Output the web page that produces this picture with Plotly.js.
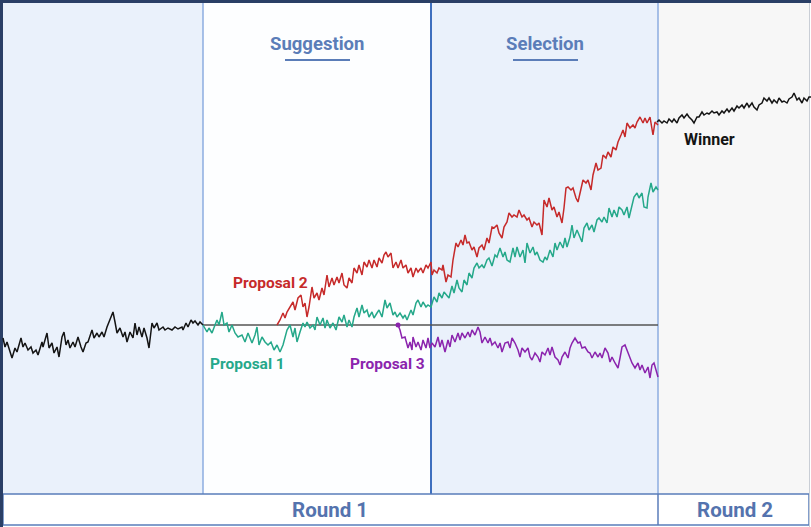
<!DOCTYPE html>
<html>
<head>
<meta charset="utf-8">
<script src="https://cdn.plot.ly/plotly-3.0.1.min.js"></script>
<style>html,body{margin:0;padding:0;background:#fff;}#chart{width:811px;height:527px;}</style>
</head>
<body>
<div id="chart"></div>
<script>
// Positions are in picture units: x from left, y from top (axis reversed)
const history = [[3,338],[5,347],[7,342],[12,358],[15,348],[17,352],[21,338],[23,347],[25,343],[28,350],[31,347],[33,353],[36,350],[38,355],[42,342],[43,347],[47,333],[49,348],[52,343],[54,353],[57,347],[59,357],[62,337],[64,332],[66,345],[68,340],[70,348],[73,342],[75,347],[78,337],[81,347],[83,352],[86,343],[88,342],[92,330],[94,338],[97,333],[99,337],[102,332],[104,337],[107,327],[110,320],[113,312],[115,322],[117,333],[120,328],[123,337],[125,332],[127,342],[130,332],[133,338],[135,323],[137,335],[139,327],[142,337],[144,328],[147,338],[149,348],[152,323],[154,328],[157,323],[159,330],[163,327],[165,330],[168,328],[172,330],[175,327],[178,329],[182,327],[183,330],[186,323],[188,327],[191,320],[193,323],[195,321],[198,325],[200,322],[203,325]];

const proposal1 = [[203,325],[207,332],[209,328],[212,333],[215,325],[217,320],[219,325],[222,312],[224,325],[227,323],[229,332],[232,325],[235,333],[238,337],[242,335],[245,342],[248,333],[252,343],[255,335],[257,327],[259,345],[262,337],[265,342],[268,345],[271,342],[274,350],[277,345],[280,352],[283,345],[287,330],[290,325],[293,337],[295,328],[297,342],[300,332],[303,323],[305,327],[307,322],[310,328],[313,325],[315,330],[317,317],[320,325],[323,318],[325,328],[327,320],[330,328],[333,323],[336,330],[339,317],[342,322],[344,315],[347,327],[349,320],[352,327],[354,317],[357,308],[359,317],[362,305],[364,313],[367,310],[369,317],[372,312],[374,318],[377,313],[379,310],[382,317],[385,300],[387,308],[390,303],[393,315],[395,312],[397,317],[400,313],[403,318],[405,315],[407,320],[411,310],[413,315],[416,303],[418,300],[421,307],[423,302],[426,307],[428,305],[431,307],[434,297],[437,302],[439,293],[442,298],[444,292],[447,295],[449,298],[452,286],[454,293],[457,280],[459,288],[462,292],[464,280],[467,285],[469,273],[472,278],[474,268],[477,263],[479,268],[482,265],[484,268],[487,260],[489,258],[492,266],[495,255],[497,257],[500,248],[503,257],[505,252],[507,260],[510,262],[513,248],[515,257],[517,247],[520,257],[523,250],[525,263],[527,243],[530,253],[533,247],[535,255],[537,252],[540,260],[543,262],[545,257],[547,260],[550,250],[553,257],[555,243],[557,250],[560,242],[563,248],[565,238],[567,247],[570,237],[572,225],[574,238],[577,230],[579,235],[582,242],[584,228],[587,223],[589,230],[592,225],[594,232],[597,220],[599,218],[602,222],[604,217],[607,223],[609,208],[612,217],[614,210],[617,217],[619,207],[622,210],[624,215],[627,207],[629,218],[632,205],[634,197],[637,193],[639,198],[642,193],[644,207],[647,208],[648,197],[651,183],[653,192],[656,187],[658,190]];

const proposal2 = [[277,325],[280,320],[283,313],[285,318],[287,312],[290,307],[293,302],[295,310],[298,298],[301,295],[303,307],[305,303],[307,317],[309,307],[312,287],[314,298],[317,293],[319,300],[322,288],[324,295],[327,275],[329,287],[332,278],[334,285],[337,277],[339,283],[342,273],[344,285],[347,288],[349,278],[352,283],[354,268],[357,273],[359,265],[362,275],[364,262],[367,267],[369,260],[372,268],[374,260],[377,267],[379,258],[382,263],[384,255],[386,252],[388,257],[391,253],[393,268],[396,262],[398,268],[401,260],[403,268],[406,265],[408,273],[411,268],[413,277],[416,268],[418,272],[421,268],[423,273],[426,265],[428,268],[431,262],[432,275],[434,270],[437,273],[439,268],[442,270],[443,265],[446,282],[448,275],[451,277],[453,260],[456,243],[458,247],[461,240],[463,245],[465,235],[467,243],[469,242],[472,250],[474,247],[477,257],[479,248],[482,245],[484,250],[487,238],[489,243],[492,227],[494,228],[497,225],[499,233],[502,238],[504,227],[507,222],[509,213],[512,217],[514,215],[517,217],[519,210],[522,217],[524,215],[527,220],[529,218],[532,227],[534,222],[537,225],[539,223],[542,235],[544,200],[547,207],[549,198],[552,210],[554,207],[557,217],[559,212],[562,223],[564,208],[566,188],[568,187],[571,190],[573,188],[576,198],[578,202],[581,188],[583,180],[586,183],[588,180],[591,190],[593,175],[596,163],[598,170],[601,168],[603,155],[606,158],[608,152],[611,157],[613,147],[616,150],[618,142],[621,135],[623,130],[625,137],[627,123],[630,128],[633,125],[635,128],[637,122],[640,117],[643,123],[645,118],[647,123],[650,117],[653,135],[655,122],[658,125]];

const proposal3 = [[398,325],[400,330],[402,338],[405,337],[408,348],[410,342],[412,350],[413,337],[416,347],[418,342],[421,350],[423,340],[426,348],[428,338],[430,348],[432,343],[435,347],[438,337],[440,347],[442,340],[445,352],[448,340],[450,347],[452,335],[455,342],[458,333],[460,340],[462,333],[465,338],[468,332],[470,337],[472,330],[475,335],[478,327],[480,332],[482,343],[485,337],[488,343],[490,338],[492,345],[495,342],[498,348],[500,343],[502,352],[505,343],[508,342],[510,348],[512,338],[515,343],[518,350],[520,357],[522,348],[525,352],[528,348],[530,357],[532,360],[535,353],[538,357],[540,362],[542,352],[545,355],[548,348],[550,355],[552,347],[555,357],[558,360],[560,365],[562,357],[565,352],[568,358],[570,348],[572,343],[575,338],[578,343],[580,342],[582,348],[585,347],[588,352],[590,353],[592,358],[595,352],[598,357],[600,353],[602,358],[605,348],[608,353],[610,362],[612,357],[615,363],[618,368],[620,358],[622,347],[625,345],[628,353],[630,357],[632,363],[635,368],[638,363],[640,370],[642,365],[645,373],[648,367],[650,378],[652,365],[654,363],[657,372],[658,377]];

const winner = [[657,122],[659,120],[662,123],[664,121],[667,123],[669,119],[672,122],[674,119],[677,123],[679,118],[682,115],[684,118],[687,114],[689,117],[692,120],[694,123],[697,117],[699,117],[702,112],[704,115],[707,113],[709,114],[712,111],[714,113],[717,112],[719,115],[722,111],[724,113],[727,109],[729,112],[732,108],[734,111],[737,106],[739,108],[742,105],[744,108],[747,103],[749,107],[752,103],[754,107],[757,110],[759,105],[762,103],[764,98],[767,101],[769,98],[772,103],[774,100],[777,103],[779,98],[782,102],[784,101],[787,103],[789,99],[792,97],[794,93],[797,100],[799,98],[802,103],[804,98],[807,101],[809,97],[811,97]];

const phaseLabels = ["Suggestion", "Selection"];
const roundLabels = ["Round 1", "Round 2"];
const seriesLabels = ["Proposal 1", "Proposal 2", "Proposal 3", "Winner"];

const X = a => a.map(p => p[0]);
const Y = a => a.map(p => p[1]);

function line(arr, color) {
  return {x: X(arr), y: Y(arr), mode: 'lines', type: 'scatter', hoverinfo: 'skip',
          line: {color: color, width: 1.5}, showlegend: false};
}

const cGreen = '#25A88A', cRed = '#C62A2A', cPurple = '#8B24AD', cBlack = '#141414';
const traces = [
  line(history, cBlack),
  line(proposal1, cGreen),
  line(proposal2, cRed),
  line(proposal3, cPurple),
  line(winner, cBlack),
  {x: [proposal3[0][0]], y: [proposal3[0][1]], mode: 'markers', type: 'scatter', hoverinfo: 'skip',
   marker: {color: cPurple, size: 5}, showlegend: false}
];

const lightBlue = '#EAF1FB';
const shapes = [
  {type:'rect', layer:'below', x0:3, x1:203, y0:3, y1:494, fillcolor:lightBlue, line:{width:0}},
  {type:'rect', layer:'below', x0:203, x1:431, y0:3, y1:494, fillcolor:'#FDFEFF', line:{width:0}},
  {type:'rect', layer:'below', x0:431, x1:658, y0:3, y1:494, fillcolor:lightBlue, line:{width:0}},
  {type:'rect', layer:'below', x0:658, x1:810, y0:3, y1:494, fillcolor:'#F7F7F7', line:{width:0}},
  {type:'line', layer:'below', x0:203, x1:203, y0:3, y1:494, line:{color:'#8CADE0', width:1.5}},
  {type:'line', layer:'below', x0:431, x1:431, y0:3, y1:494, line:{color:'#3E6FBE', width:2}},
  {type:'line', layer:'below', x0:658, x1:658, y0:3, y1:494, line:{color:'#8CADE0', width:1.5}},
  {type:'line', layer:'below', x0:203, x1:658, y0:325, y1:325, line:{color:'#555555', width:1.5}},
  {type:'rect', layer:'below', x0:3, x1:809, y0:494, y1:525, fillcolor:'#FFFFFF', line:{color:'#5A7DBA', width:1.5}},
  {type:'line', layer:'below', x0:658, x1:658, y0:494, y1:525, line:{color:'#5A7DBA', width:1.5}},
  {type:'line', layer:'below', x0:809.5, x1:809.5, y0:3, y1:527, line:{color:'#C9CED6', width:1}},
  {type:'line', layer:'below', x0:0, x1:811, y0:1.5, y1:1.5, line:{color:'#2A3F66', width:3}},
  {type:'line', layer:'below', x0:1.5, x1:1.5, y0:0, y1:527, line:{color:'#2A3F66', width:3}},
  {type:'line', layer:'below', x0:285, x1:350, y0:60, y1:60, line:{color:'#5B7DB8', width:2}},
  {type:'line', layer:'below', x0:513, x1:578, y0:60, y1:60, line:{color:'#5B7DB8', width:2}}
];

const F = 'Roboto, "Open Sans", Arial, sans-serif';
function ann(text, x, y, color, size) {
  return {text: '<b>' + text + '</b>', x: x, y: y, xref: 'x', yref: 'y', showarrow: false,
          xanchor: 'center', yanchor: 'middle', font: {family: F, size: size, color: color}};
}
const annotations = [
  ann(phaseLabels[0], 317, 44, '#5B7DB8', 18.5),
  ann(phaseLabels[1], 545, 44, '#5B7DB8', 18.5),
  ann(roundLabels[0], 330, 510, '#5473AE', 20.5),
  ann(roundLabels[1], 735, 510, '#5473AE', 20.5),
  ann(seriesLabels[0], 247, 364, cGreen, 15.5),
  ann(seriesLabels[1], 270, 283, cRed, 15.5),
  ann(seriesLabels[2], 387, 364, cPurple, 15.5),
  ann(seriesLabels[3], 709, 139, cBlack, 16)
];

const layout = {
  width: 811, height: 527,
  margin: {l:0, r:0, t:0, b:0, pad:0},
  paper_bgcolor: '#FFFFFF', plot_bgcolor: '#FFFFFF',
  xaxis: {range:[0,811], visible:false, fixedrange:true},
  yaxis: {range:[527,0], visible:false, fixedrange:true},
  shapes: shapes, annotations: annotations, showlegend: false
};

Plotly.newPlot('chart', traces, layout, {staticPlot: true, displayModeBar: false});
</script>
</body>
</html>
